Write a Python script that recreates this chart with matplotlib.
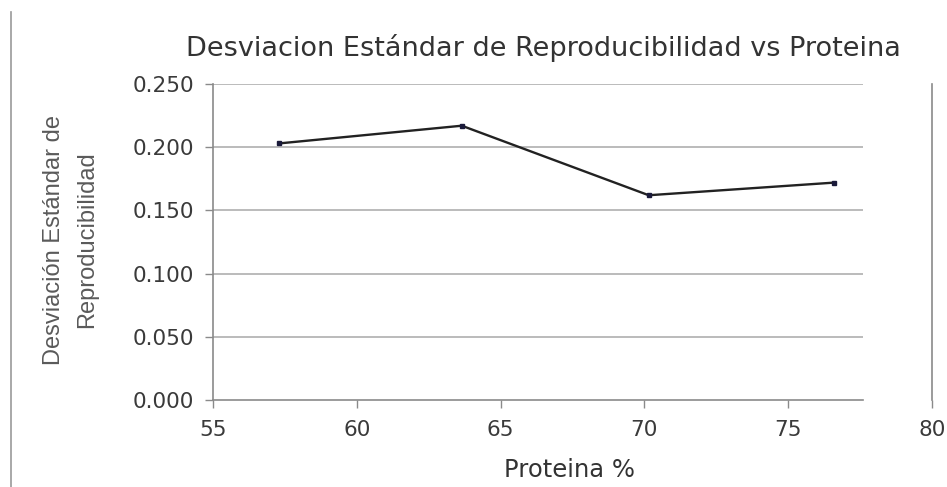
import matplotlib
matplotlib.use("Agg")
import matplotlib.pyplot as plt
from matplotlib.lines import Line2D

plt.rcParams['font.family'] = ['DejaVu Sans']

proteina = [57.3, 63.65, 70.15, 76.6]
desviacion = [0.203, 0.217, 0.162, 0.172]
x_ticks = [55, 60, 65, 70, 75, 80]
y_ticks = [0.000, 0.050, 0.100, 0.150, 0.200, 0.250]
grid_end = 77.6

fig = plt.figure(figsize=(9.47, 4.87), dpi=100)
ax = fig.add_axes([0.2249, 0.1786, 0.7593, 0.6489])

grid_color = '#a8a8a8'
ax.hlines(y_ticks[1:], x_ticks[0], grid_end, color=grid_color, lw=1.1, zorder=1)
ax.plot(proteina, desviacion, color='#222222', lw=1.7, marker='s', ms=3,
        mfc='#1a1a3a', mec='#1a1a3a', zorder=3)

ax.set_xlim(x_ticks[0], x_ticks[-1])
ax.set_ylim(y_ticks[0], y_ticks[-1])
ax.set_xticks(x_ticks)
ax.set_yticks(y_ticks)
ax.set_xticklabels([str(v) for v in x_ticks])
ax.set_yticklabels([f"{v:.3f}" for v in y_ticks])
ax.tick_params(axis='both', labelsize=15.5, colors='#8a8a8a', labelcolor='#3a3a3a',
               length=5.5, width=1, direction='out')
ax.tick_params(axis='x', pad=9)
ax.tick_params(axis='y', pad=8)

ax.spines['top'].set_visible(False)
for side in ['left', 'bottom', 'right']:
    ax.spines[side].set_color('#8a8a8a')
    ax.spines[side].set_linewidth(1.2)
ax.spines['bottom'].set_bounds(x_ticks[0], grid_end)

fig.text(0.574, 0.901, 'Desviacion Estándar de Reproducibilidad vs Proteina',
         ha='center', va='center', fontsize=19.5, color='#333333')
fig.text(0.601, 0.035, 'Proteina %', ha='center', va='center',
         fontsize=17.5, color='#333333')
fig.text(0.075, 0.507, 'Desviación Estándar de\nReproducibilidad', ha='center',
         va='center', rotation=90, fontsize=17, color='#5a5a5a',
         family='Liberation Sans', linespacing=1.65)

# page border on the left
fig.add_artist(Line2D([0.0118, 0.0118], [0.0, 0.975], transform=fig.transFigure,
                      color='#999999', lw=1.2))

fig.savefig('out.png', dpi=100, facecolor='white')
